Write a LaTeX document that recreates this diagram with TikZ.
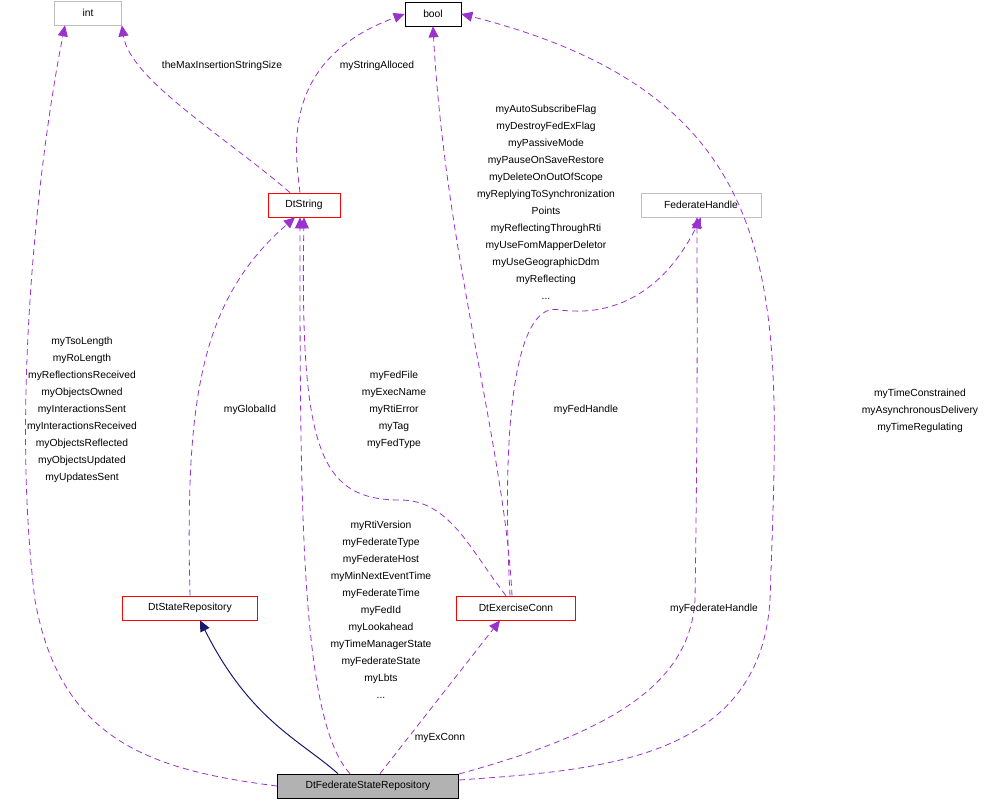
\documentclass[tikz,border=0pt]{standalone}
\usepackage{fontspec}
\setmainfont{Liberation Sans}
\usetikzlibrary{arrows.meta}
\definecolor{orch}{HTML}{9A32CD}
\definecolor{navy}{HTML}{191970}
\begin{document}
\begin{tikzpicture}[x=1pt,y=-1pt,font=\fontsize{10.3}{17}\selectfont,
 box/.style={draw,minimum height=24pt,inner sep=3pt,line width=0.7pt},
 use/.style={draw=orch,dashed,dash pattern=on 6pt off 4pt,line width=0.8pt,-{Triangle[length=11pt,width=10pt]}},
 inh/.style={draw=navy,line width=1pt,-{Triangle[length=11pt,width=10pt]}},
 lbl/.style={align=center,inner sep=0pt}]
\useasboundingbox (0,0) rectangle (991,808);
\node[box,draw=gray!50,minimum width=67pt] (int) at (88,13) {int};
\node[box,draw=black,minimum width=56pt] (bool) at (433,14) {bool};
\node[box,draw=red,minimum width=72pt] (str) at (304,205) {DtString};
\node[box,draw=gray!50,minimum width=120pt] (fh) at (701,205) {FederateHandle};
\node[box,draw=red,minimum width=135pt] (sr) at (190,608) {DtStateRepository};
\node[box,draw=red,minimum width=119pt] (ec) at (516,608) {DtExerciseConn};
\node[box,draw=black,fill=gray!60,minimum width=181pt] (fsr) at (368,786) {DtFederateStateRepository};

\draw[use] (fsr.west) .. controls (150,770) and (60,740) .. (35,600) .. controls (10,400) and (40,150) .. (int.south west -| 65,0);
\draw[use] (str.north) ++(-14,0) .. controls (230,140) and (130,80) .. (int.south east);
\draw[use] (str.north) ++(-4,0) .. controls (295,150) and (280,60) .. (bool.west);
\draw[use] (ec.north) ++(-4,0) .. controls (505,450) and (445,250) .. (bool.south);
\draw[use] (fsr.east) ++(0,-6) .. controls (600,770) and (760,760) .. (770,600) .. controls (780,300) and (800,100) .. (bool.east);
\draw[use] (ec.north) ++(-6,0) .. controls (500,400) and (520,300) .. (560,310) .. controls (640,320) and (680,260) .. (fh.south);
\draw[use] (fsr.east) ++(0,-12) .. controls (620,730) and (690,680) .. (695,600) .. controls (698,400) and (697,300) .. (fh.south -| 697,0);
\draw[use] (sr.north) .. controls (185,400) and (200,300) .. (str.south -| 295,0);
\draw[use] (ec.north) ++(-10,0) .. controls (470,550) and (450,500) .. (400,500) .. controls (320,500) and (300,450) .. (str.south);
\draw[use] (fsr.north) ++(-18,0) .. controls (300,720) and (300,500) .. (str.south -| 300,0);
\draw[use] (fsr.north) ++(12,0) -- (ec.south -| 500,0);
\draw[inh] (fsr.north) ++(-30,0) .. controls (300,740) and (250,720) .. (sr.south -| 200,0);

\node[lbl] at (82,410) {myTsoLength\\myRoLength\\myReflectionsReceived\\myObjectsOwned\\myInteractionsSent\\myInteractionsReceived\\myObjectsReflected\\myObjectsUpdated\\myUpdatesSent};
\node[lbl] at (222,66) {theMaxInsertionStringSize};
\node[lbl] at (377,66) {myStringAlloced};
\node[lbl] at (546,202) {myAutoSubscribeFlag\\myDestroyFedExFlag\\myPassiveMode\\myPauseOnSaveRestore\\myDeleteOnOutOfScope\\myReplyingToSynchronization\\Points\\myReflectingThroughRti\\myUseFomMapperDeletor\\myUseGeographicDdm\\myReflecting\\...};
\node[lbl] at (920,411) {myTimeConstrained\\myAsynchronousDelivery\\myTimeRegulating};
\node[lbl] at (586,410) {myFedHandle};
\node[lbl] at (714,609) {myFederateHandle};
\node[lbl] at (250,410) {myGlobalId};
\node[lbl] at (394,410) {myFedFile\\myExecName\\myRtiError\\myTag\\myFedType};
\node[lbl] at (381,610) {myRtiVersion\\myFederateType\\myFederateHost\\myMinNextEventTime\\myFederateTime\\myFedId\\myLookahead\\myTimeManagerState\\myFederateState\\myLbts\\...};
\node[lbl] at (440,738) {myExConn};
\end{tikzpicture}
\end{document}
